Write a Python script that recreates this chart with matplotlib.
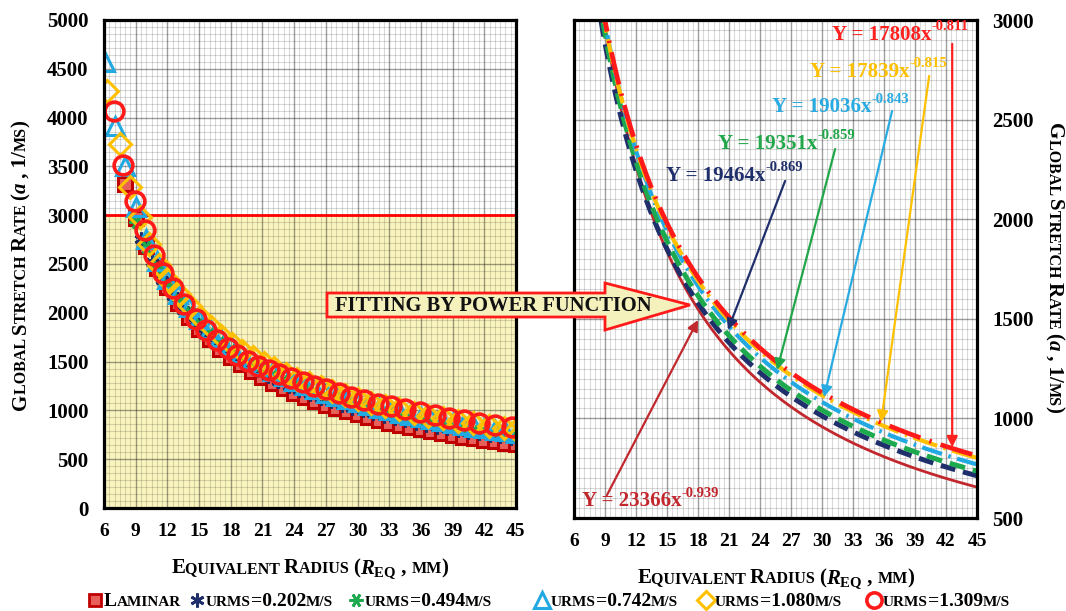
import matplotlib
matplotlib.use('Agg')
import matplotlib.pyplot as plt
import numpy as np
from matplotlib.ticker import MultipleLocator
from matplotlib.patches import Rectangle, Polygon
from matplotlib.lines import Line2D
from matplotlib.transforms import offset_copy

plt.rcParams['font.family'] = ['Liberation Serif', 'DejaVu Serif']
plt.rcParams['font.weight'] = 'bold'
plt.rcParams['mathtext.fontset'] = 'custom'
plt.rcParams['mathtext.rm'] = 'Liberation Serif:bold'
plt.rcParams['mathtext.bf'] = 'Liberation Serif:bold'
plt.rcParams['mathtext.it'] = 'Liberation Serif:italic:bold'
plt.rcParams['mathtext.default'] = 'rm'

# ---------------- data ----------------
series_labels = ['Laminar', 'urms=0.202m/s', 'urms=0.494m/s', 'urms=0.742m/s', 'urms=1.080m/s', 'urms=1.309m/s']
legend_values = ['=0.202', '=0.494', '=0.742', '=1.080', '=1.309']

lam_r = [8, 9, 10, 11, 12, 13, 14, 15, 16, 17, 18, 19, 20, 21, 22, 23, 24, 25, 26, 27,
         28, 29, 30, 31, 32, 33, 34, 35, 36, 37, 38, 39, 40, 41, 42, 43, 44, 45]
lam_a = [3316, 2969, 2689, 2459, 2266, 2102, 1961, 1838, 1730, 1634, 1549, 1472, 1403, 1340,
         1283, 1230, 1182, 1138, 1097, 1058, 1023, 990, 959, 929, 902, 876, 852, 829, 808, 787,
         768, 749, 732, 715, 699, 684, 669, 655]

u202_r = [9.5, 10.5, 11.5, 12.5, 13.5, 14.5, 15.5, 16.5, 17.5, 18.5, 19.5, 20.5, 21.5, 22.5,
          23.5, 24.5, 25.5, 26.5, 27.5, 28.5, 29.5, 30.5, 31.5, 32.5, 33.5, 34.5, 35.5, 36.5,
          37.5, 38.5, 39.5, 40.5, 41.5, 42.5, 43.5, 44.5, 45]
u202_a = [2755, 2524, 2332, 2168, 2027, 1905, 1798, 1703, 1618, 1542, 1473, 1410, 1353, 1300,
          1252, 1208, 1167, 1128, 1093, 1059, 1028, 999, 971, 945, 920, 897, 875, 854, 834, 815,
          797, 780, 764, 748, 733, 719, 712]

u494_r = [9, 10, 11, 12, 13, 14, 15, 16, 17, 18, 19, 20, 21, 22, 23, 24, 25, 26, 27, 28, 29,
          30, 31, 32, 33, 34, 35, 36, 37, 38, 39, 40, 41, 42, 43, 44, 45]
u494_a = [2931, 2677, 2467, 2289, 2137, 2005, 1890, 1788, 1697, 1616, 1543, 1476, 1416, 1360,
          1309, 1262, 1219, 1178, 1141, 1106, 1073, 1042, 1013, 986, 960, 936, 913, 891, 870,
          850, 832, 814, 797, 780, 765, 750, 736]

u742_r = [6.1, 7.0, 8.0, 9.0, 10, 11, 12, 13, 14, 15, 16, 17, 18, 19, 20, 21, 22, 23, 24, 25,
          26, 27, 28, 29, 30, 31, 32, 33, 34, 35, 36, 37, 38, 39, 40, 41, 42, 43, 44, 45]
u742_a = [4570, 3910, 3500, 3080, 2760, 2530, 2343, 2190, 2058, 1941, 1839, 1747, 1665, 1591,
          1523, 1462, 1406, 1354, 1306, 1262, 1221, 1183, 1147, 1114, 1082, 1053, 1025, 999,
          974, 950, 928, 907, 887, 868, 849, 832, 815, 799, 784, 769]

u1080_r = [6.3, 7.5, 8.5, 9.4, 10.3, 11.2, 12.1, 13.1, 14.1, 15.1, 16.1, 17.1, 18.1, 19.1, 20.1,
           21.1, 22.1, 23.2, 24.3, 25.4, 26.5, 27.6, 28.8, 30.0, 31.3, 32.6, 33.9, 35.3, 36.7,
           38.1, 39.5, 40.9, 42.4, 43.9, 45.0]
u1080_a = [4270, 3730, 3290, 2980, 2700, 2490, 2340, 2195, 2065, 1953, 1853, 1764, 1685, 1612,
           1547, 1486, 1432, 1376, 1325, 1278, 1235, 1194, 1154, 1116, 1078, 1043, 1010, 977,
           947, 918, 892, 867, 842, 818, 802]

u1309_r = [6.9, 7.8, 8.9, 9.9, 10.7, 11.6, 12.5, 13.6, 14.7, 15.7, 16.7, 17.7, 18.6, 19.6, 20.6,
           21.6, 22.6, 23.7, 24.8, 25.9, 27.0, 28.2, 29.4, 30.6, 31.9, 33.2, 34.5, 35.9, 37.3,
           38.7, 40.1, 41.5, 43.0, 44.6]
u1309_a = [4070, 3510, 3150, 2850, 2590, 2410, 2250, 2090, 1940, 1820, 1720, 1640, 1570, 1510,
           1460, 1415, 1375, 1330, 1290, 1250, 1215, 1175, 1140, 1105, 1070, 1040, 1010, 980,
           950, 925, 900, 875, 850, 825]

# power-law trend lines shown in right panel (Y = A * X^b)
fit_coef = [23366, 19464, 19351, 19036, 17839, 17808]
fit_exp = [-0.939, -0.869, -0.859, -0.843, -0.815, -0.811]

x_ticks = [6, 9, 12, 15, 18, 21, 24, 27, 30, 33, 36, 39, 42, 45]
left_y_ticks = [0, 500, 1000, 1500, 2000, 2500, 3000, 3500, 4000, 4500, 5000]
right_y_ticks = [500, 1000, 1500, 2000, 2500, 3000]

# ---------------- styles ----------------
colors = ['#C8102E', '#1F2F6B', '#1DAA4E', '#23A9E1', '#FFC000', '#FF1A1A']
eq_colors = ['#C1272D', '#1F2F6B', '#21A649', '#29ABE2', '#FFC000', '#FF2020']

W, H = 1066, 611
fig = plt.figure(figsize=(W / 100, H / 100), dpi=100)
fig.patch.set_facecolor('white')
renderer = fig.canvas.get_renderer()


def fx(px):
    return px / W


def fy(py):
    return 1 - py / H


def text_width(s, size):
    t1 = fig.text(0, 0, '|' + s + '|', fontsize=size, fontweight='bold')
    t2 = fig.text(0, 0, '||', fontsize=size, fontweight='bold')
    w = t1.get_window_extent(renderer).width - t2.get_window_extent(renderer).width
    t1.remove()
    t2.remove()
    return w


def runs_text(xp, yp, runs, rotation=0, align='center', color='black'):
    widths = [text_width(s, sz) for s, sz in runs]
    total = sum(widths)
    pos = -total / 2 if align == 'center' else 0
    x0, y0 = xp, H - yp
    for (s, sz), w in zip(runs, widths):
        if rotation == 0:
            X, Y = x0 + pos, y0
        elif rotation == 90:
            X, Y = x0, y0 + pos
        else:
            X, Y = x0, y0 - pos
        fig.text(X / W, Y / H, s, fontsize=sz, fontweight='bold', rotation=rotation,
                 rotation_mode='anchor', ha='left', va='baseline', color=color)
        pos += w


axL = fig.add_axes([fx(104), fy(508), 412 / W, 488 / H])
axR = fig.add_axes([fx(574), fy(518), 403 / W, 498 / H])

for ax in (axL, axR):
    ax.set_xlim(6, 45)
    ax.set_xticks(x_ticks)
    ax.xaxis.set_minor_locator(MultipleLocator(0.5))
    ax.set_axisbelow(True)
    ax.grid(which='major', color='black', alpha=0.38, lw=1.0)
    ax.grid(which='minor', color='black', alpha=0.15, lw=0.8)
    for sp in ax.spines.values():
        sp.set_linewidth(2.3)
        sp.set_color('black')
        sp.set_zorder(5)
    ax.tick_params(which='both', length=0)
    ax.tick_params(axis='x', pad=11, labelsize=14)
    ax.tick_params(axis='y', pad=11, labelsize=15)

axL.set_ylim(0, 5000)
axL.set_yticks(left_y_ticks)
axL.yaxis.set_minor_locator(MultipleLocator(500 / 7))

axR.set_ylim(500, 3000)
axR.set_yticks(right_y_ticks)
axR.yaxis.set_minor_locator(MultipleLocator(50))
axR.yaxis.tick_right()

# yellow highlighted region in left panel
axL.add_patch(Rectangle((6, 0), 39, 3000, fc='#FAF5BF', ec='none', zorder=0.3))
axL.add_patch(Rectangle((6, 0), 39, 3000, fill=False, ec='#FF0000', lw=2.0, zorder=1.8,
                        clip_on=False))

# ---------------- left panel markers ----------------
mk = dict(ls='none', mew=2.2)
axL.plot(lam_r, lam_a, marker='s', ms=10, mfc='#E8605A', mec='#C00000', zorder=2.0, **mk)
axL.plot(u202_r, u202_a, marker=(6, 2, 0), ms=10, mec=colors[1], mfc=colors[1], zorder=2.1, **mk)
axL.plot(u494_r, u494_a, marker=(6, 2, 30), ms=10, mec=colors[2], mfc=colors[2], zorder=2.2, **mk)
axL.plot(u742_r, u742_a, marker='^', ms=13, mfc='none', mec=colors[3], zorder=2.3, **mk)
axL.plot(u1080_r, u1080_a, marker='D', ms=11, mfc='none', mec=colors[4], zorder=2.4, **mk)
axL.plot(u1309_r, u1309_a, marker='o', ms=13.5, mfc='none', mec=colors[5], zorder=2.5,
         ls='none', mew=2.6)

# ---------------- right panel trend lines ----------------
xs = np.linspace(6, 45, 400)
styles = [
    dict(ls='-', lw=2.0),
    dict(lw=3.6, dashes=(3.0, 1.6)),
    dict(lw=3.6, dashes=(3.2, 1.6)),
    dict(lw=3.0, dashes=(5.0, 1.6, 0.6, 1.6)),
    dict(lw=3.0, dashes=(6.0, 1.6, 0.6, 1.6)),
    dict(lw=3.4, dashes=(7.0, 2.0, 0.5, 2.0)),
]
for i in range(6):
    ys = fit_coef[i] * xs ** fit_exp[i]
    axR.plot(xs, ys, color=colors[i] if i > 0 else '#C1272D', zorder=3 + i * 0.1, **styles[i])

# equations and arrows (text pos, arrow start, arrow tip in data coords)
eq_layout = [
    ((6.77, 585), (9.19, 615), (18.0, 1494)),
    ((14.9, 2217), (26.43, 2192), (20.9, 1444)),
    ((19.94, 2378), (31.27, 2352), (25.65, 1243)),
    ((25.17, 2563), (36.78, 2543), (30.2, 1107)),
    ((28.85, 2739), (40.37, 2719), (35.72, 982)),
    ((30.98, 2925), (42.6, 2880), (42.6, 855)),
]
EQ_SIZE, SUP_SIZE = 15, 10.5
for i in range(6):
    (tx, ty), (sx, sy), (ex, ey) = eq_layout[i]
    c = eq_colors[i]
    base = 'Y = %dx' % fit_coef[i]
    sup = '%.3f' % fit_exp[i]
    axR.text(tx, ty, base, color=c, fontsize=EQ_SIZE, fontweight='bold',
             ha='left', va='center', zorder=6)
    wb = text_width(base, EQ_SIZE)
    tr = offset_copy(axR.transData, fig=fig, x=wb, y=8, units='dots')
    axR.text(tx, ty, sup, transform=tr, color=c, fontsize=SUP_SIZE, fontweight='bold',
             ha='left', va='center', zorder=6)
    axR.annotate('', xy=(ex, ey), xytext=(sx, sy),
                 arrowprops=dict(arrowstyle='-|>', color=c, lw=1.6, mutation_scale=16,
                                 shrinkA=0, shrinkB=0), zorder=6)

# ---------------- big arrow ----------------
pts = [(327, 293), (605, 293), (605, 283), (690, 305), (605, 330), (605, 317), (327, 317)]
fig.add_artist(Polygon([(fx(a), fy(b)) for a, b in pts], closed=True, transform=fig.transFigure,
                       fc='#F4F1BD', ec='#FF1A1A', lw=2.0, zorder=10))
fig.text(fx(335), fy(306), 'FITTING BY POWER FUNCTION', fontsize=14.8, fontweight='bold',
         ha='left', va='center', zorder=11, color='#111111')

# ---------------- axis labels (small caps) ----------------
L, S = 15, 11.5
ylabel_runs = [('G', L), ('LOBAL ', S), ('S', L), ('TRETCH ', S), ('R', L), ('ATE ', S),
               ('(', L), (r'$\mathit{a}$', L), (' , 1/', L), ('MS', S), (')', L)]
xlabel_runs = [('E', L), ('QUIVALENT ', S), ('R', L), ('ADIUS ', S), ('(', L),
               (r'$\mathit{R}_{\mathrm{EQ}}$', L), (' , ', L), ('MM', S), (')', L)]

runs_text(26, 265, ylabel_runs, rotation=90)
runs_text(1049, 268, ylabel_runs, rotation=-90)
runs_text(310, 573, xlabel_runs)
runs_text(776, 583, xlabel_runs)

# ---------------- legend ----------------
leg_y = 600
marker_x = [95, 197, 356, 542, 706, 874]
leg_markers = [
    dict(marker='s', ms=9, mfc='#E8605A', mec='#C00000', mew=2.0),
    dict(marker=(6, 2, 0), ms=10, mfc=colors[1], mec=colors[1], mew=2.0),
    dict(marker=(6, 2, 30), ms=10, mfc=colors[2], mec=colors[2], mew=2.0),
    dict(marker='^', ms=11, mfc='none', mec=colors[3], mew=2.2),
    dict(marker='D', ms=9, mfc='none', mec=colors[4], mew=2.2),
    dict(marker='o', ms=11, mfc='none', mec=colors[5], mew=2.6),
]
for i in range(6):
    fig.add_artist(Line2D([fx(marker_x[i])], [fy(leg_y)], transform=fig.transFigure,
                          ls='none', **leg_markers[i]))
    if i == 0:
        runs = [('L', 14), ('AMINAR', 11)]
    else:
        runs = [('URMS', 11), (legend_values[i - 1], 14), ('M/S', 11)]
    runs_text(marker_x[i] + 9, leg_y + 6, runs, align='left')

fig.savefig('out.png', dpi=100, facecolor='white')
